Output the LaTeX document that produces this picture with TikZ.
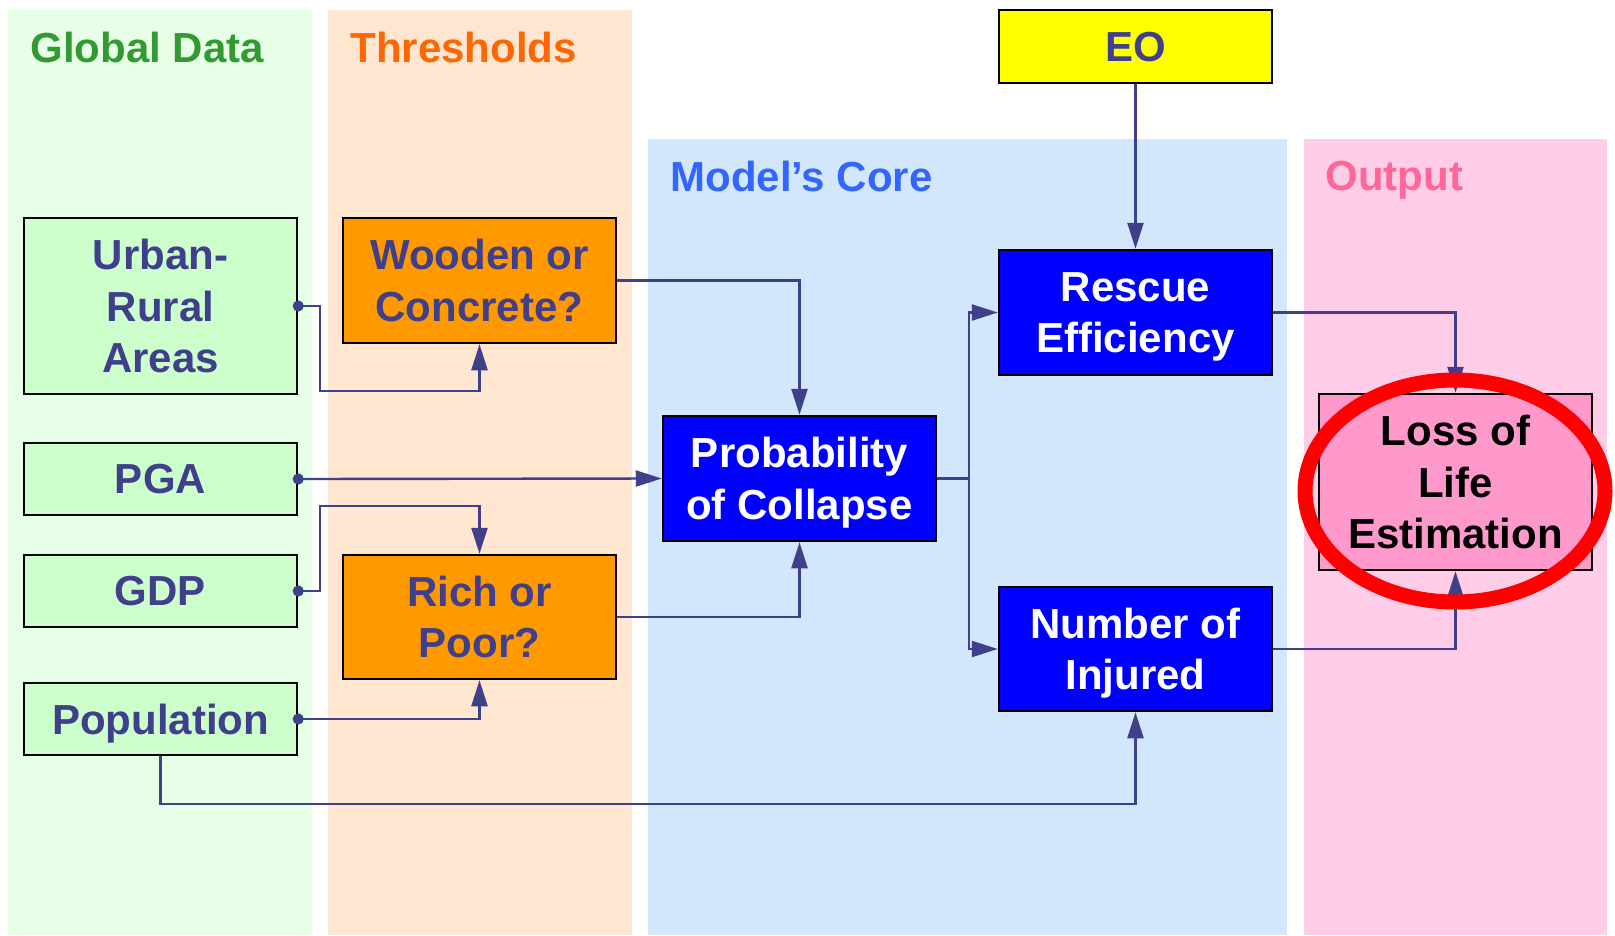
\documentclass[tikz,border=0pt]{standalone}
\usepackage{fontspec}
\setmainfont{Liberation Sans}
\usetikzlibrary{arrows.meta,calc}
\definecolor{gcol}{HTML}{E6FFE6}
\definecolor{ocol}{HTML}{FEE6D0}
\definecolor{bcol}{HTML}{D2E6FC}
\definecolor{pcol}{HTML}{FFCDE7}
\definecolor{gbx}{HTML}{CCFFCC}
\definecolor{obx}{HTML}{FF9900}
\definecolor{bbx}{HTML}{0000FF}
\definecolor{pbx}{HTML}{FF99CC}
\definecolor{eobx}{HTML}{FFFF00}
\definecolor{navy}{HTML}{3F3F8C}
\definecolor{lncol}{HTML}{40408A}
\definecolor{tgreen}{HTML}{339933}
\definecolor{torange}{HTML}{FF6600}
\definecolor{tblue}{HTML}{3366FF}
\definecolor{tpink}{HTML}{FF6699}
\tikzset{
  bx/.style={draw=black, line width=2.5pt, minimum width=273pt, align=center,
    inner sep=0pt, text depth=0pt, font=\fontsize{42}{51.5}\selectfont\bfseries},
  gb/.style={bx, fill=gbx, text=navy},
  ob/.style={bx, fill=obx, text=navy},
  bb/.style={bx, fill=bbx, text=white},
  coltitle/.style={anchor=west, text depth=0pt, font=\fontsize{42}{50}\selectfont\bfseries},
  conn/.style={draw=lncol, line width=2.4pt, -{Triangle[length=26pt,width=16pt]}},
  dconn/.style={draw=lncol, line width=2.4pt, shorten <=-5.5pt, {Circle[length=11pt]}-{Triangle[length=26pt,width=16pt]}}
}
\begin{document}
\begin{tikzpicture}[x=1pt,y=-1pt]
\useasboundingbox (0,0) rectangle (1615,935);
\fill[white] (0,0) rectangle (1615,935);
% columns
\fill[gcol] (8,10) rectangle (312,935);
\fill[ocol] (328,10) rectangle (632,935);
\fill[bcol] (648,139) rectangle (1287,935);
\fill[pcol] (1304,139) rectangle (1607,935);
\node[coltitle, text=tgreen] (tg) at (27,47) {Global Data};
\node[coltitle, text=torange] (to) at (347,47) {Thresholds};
\node[coltitle, text=tblue] (tb) at (667,176) {Model’s Core};
\node[coltitle, text=tpink] (tp) at (1322,176) {Output};
% nodes
\node[gb, minimum height=176pt] (urban) at (160.5,306) {Urban-\\Rural\\Areas};
\node[gb, minimum height=72pt] (pga) at (160.5,479) {PGA};
\node[gb, minimum height=72pt] (gdp) at (160.5,591) {GDP};
\node[gb, minimum height=72pt] (pop) at (160.5,719) {Population};
\node[ob, minimum height=125pt] (wood) at (479.5,280.5) {Wooden or\\Concrete?};
\node[ob, minimum height=124pt] (rich) at (479.5,617) {Rich or\\Poor?};
\node[bb, minimum height=125pt] (prob) at (799.5,478.5) {Probability\\of Collapse};
\node[bx, fill=eobx, text=navy, minimum height=73pt] (eo) at (1135.5,46.5) {EO};
\node[bb, minimum height=125pt] (resc) at (1135.5,312.5) {Rescue\\Efficiency};
\node[bb, minimum height=124pt] (inj) at (1135.5,649) {Number of\\Injured};
% connectors
\draw[dconn] (urban.east) -- ++(22,0) |- ([yshift=-47pt]wood.south) -- (wood.south);
\draw[conn] (wood.east) -| (prob.north);
\draw[dconn] (pga.east) -- (prob.west);
\draw[dconn] (gdp.east) -- ++(22,0) |- ([yshift=48pt]rich.north) -- (rich.north);
\draw[dconn] (pop.east) -| (rich.south);
\draw[conn] (rich.east) -| (prob.south);
\draw[conn] (prob.east) -- ++(32,0) |- (resc.west);
\draw[conn] (prob.east) -- ++(32,0) |- (inj.west);
\draw[conn] (eo.south) -- (resc.north);
\draw[conn] (pop.south) -- ([yshift=-48pt]pop.south) -| (inj.south);
\node[bx, fill=pbx, text=black, minimum height=176pt] (loss) at (1455.5,482) {Loss of\\Life\\Estimation};
\draw[conn] (resc.east) -| (loss.north);
\draw[conn] (inj.east) -| (loss.south);
\draw[red, line width=15pt] (1455,491) ellipse [x radius=150, y radius=111];
\end{tikzpicture}
\end{document}
